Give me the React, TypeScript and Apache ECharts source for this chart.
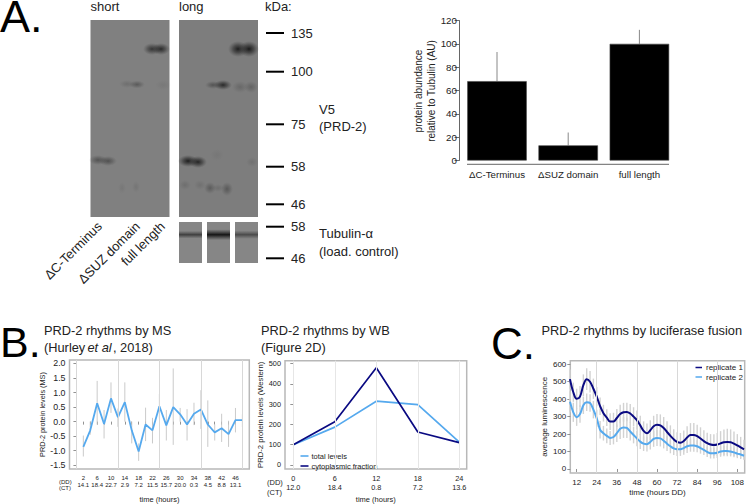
import React, { useEffect, useRef } from "react";
import * as echarts from "echarts";

const FONT = "Liberation Sans";
const NAVY = "#0a0a82";
const BLUE = "#55a9ee";

// Panel A bar chart
const barCategories = ["ΔC-Terminus", "ΔSUZ domain", "full length"];
const barValues = [68, 13, 100];
const barErrTop = [93, 24, 112];

// Panel B, mass spectrometry
const msHours = [2,4,6,8,10,12,14,16,18,20,22,24,26,28,30,32,34,36,38,40,42,44,46,48];
const msValues = [-0.87,-0.3,0.63,-0.08,0.8,0.15,0.67,-0.3,-1.03,-0.1,-0.3,0.53,-0.13,0.5,0.25,-0.1,0.27,0.42,-0.1,-0.37,-0.23,-0.43,0.05,0.05];
const msLow = [-1.2,-0.45,-0.1,-0.58,0.3,-0.18,0,-0.75,-1.35,-0.67,-0.75,0.1,-0.65,-0.8,0,-0.65,-0.12,-0.25,-0.87,-0.65,-0.7,-0.87,-0.37,-0.18];
const msHigh = [-0.48,0,1.4,0.4,1.35,0.45,1.35,0,-0.75,0.48,0.13,0.95,0.4,1.83,0.47,0.43,0.65,1.08,0.73,-0.1,0.27,0.03,0.47,0.25];
const msDD = [2,6,10,14,18,22,26,30,34,38,42,46];
const msCT = ["14.1","18.4","22.7","2.9","7.2","11.5","15.7","20.0","0.3","4.5","8.8","13.1"];
const msGrid = [0,12,24,36,48];
const msYTicks = [-1.5,-1,-0.5,0,0.5,1,1.5,2];

// Panel B, western blot
const wbDD = [0,6,12,18,24];
const wbCT = ["12.0","18.4","0.8","7.2","13.6"];
const wbTotal = [100,187,315,298,113];
const wbCyto = [100,213,480,163,110];
const wbYTicks = [0,100,200,300,400,500];

// Panel C, luciferase
const lucHours = [8,10,12,14,16,18,20,22,24,26,28,30,32,34,36,38,40,42,44,46,48,50,52,54,56,58,60,62,64,66,68,70,72,74,76,78,80,82,84,86,88,90,92,94,96,98,100,102,104,106,108,110,112];
const lucRep1 = [515,440,402,415,480,515,500,460,415,360,320,295,272,272,292,315,325,327,318,300,280,250,218,205,222,245,253,250,235,212,190,170,155,150,160,180,195,195,188,175,160,148,140,137,140,147,153,155,153,145,135,124,113];
const lucErr1 = [55,55,58,60,62,63,62,58,55,50,48,48,48,50,52,53,54,53,54,54,55,55,55,55,58,60,62,63,63,62,60,58,56,56,60,65,68,68,66,64,62,60,60,62,66,70,73,75,74,70,65,60,55];
const lucRep2 = [385,325,297,315,365,382,378,340,290,225,205,190,178,183,205,230,238,235,215,195,175,157,145,142,155,172,178,175,162,145,130,118,113,113,120,130,135,135,130,120,110,98,90,90,93,100,103,103,100,95,88,83,76];
const lucErr2 = [60,55,50,50,50,50,50,50,50,50,42,42,40,42,50,58,60,58,52,48,45,42,42,42,44,45,46,46,44,42,40,38,38,38,38,38,36,36,34,32,30,30,30,30,30,30,30,30,28,28,26,26,25];
const lucXTicks = [12,24,36,48,60,72,84,96,108];
const lucGrid = [24,48,72,96];
const lucYTicks = [0,100,200,300,400,500,600];

// Blot annotation
const markerShort = [["135",33],["100",71.7],["75",124.3],["58",166.7],["46",204.3],["58",226.7],["46",258.3]];
const bandsShort = [
  [152,49,9,6,0.7],[161,49,9,6,0.8],
  [137,84.5,8,4,0.35],[127,84,8,4,0.16],[163,85,8,5,0.07],
  [98,160,9,5,0.42],[108,161,9,5,0.45],
  [122,188,4,6,0.08],[136,187,4,6,0.1],
];
const bandsLong = [
  [238,49,10,8,0.9],[249,49,10,8,0.95],
  [213,85,8,4,0.4],[223,85,9,5,0.8],[240,87,8,6,0.2],[251,87,7,6,0.25],
  [188,161,10,6,0.9],[198,162,9,6,0.85],
  [210,188,6,6,0.32],[227,189,6,7,0.35],[185,185,6,5,0.14],[200,185,6,5,0.12],
  [217,155,7,6,0.06],[252,162,6,5,0.12],[218,188,6,4,0.14],
];
const tubulinBands = [[179,202,0.6,2.4],[207,230,0.95,3.4],[235,258,0.5,2.6]];

const txt = (x: number, y: number, text: string, fontSize: number, extra: any = {}, rest: any = {}) => ({
  type: "text", x, y, silent: true, ...rest,
  style: { text, fontSize, fontFamily: FONT, fill: "#222", verticalAlign: "middle", ...extra },
});

const blob = (b: number[]) => ({
  type: "ellipse", silent: true,
  shape: { cx: b[0], cy: b[1], rx: b[2], ry: b[3] },
  style: {
    fill: new echarts.graphic.RadialGradient(0.5, 0.5, 0.5, [
      { offset: 0, color: `rgba(20,20,20,${b[4]})` },
      { offset: 0.5, color: `rgba(30,30,30,${b[4] * 0.55})` },
      { offset: 1, color: "rgba(60,60,60,0)" },
    ]),
  },
});

const rectEl = (x: number, y: number, w: number, h: number, fill: any) => ({
  type: "rect", silent: true, shape: { x, y, width: w, height: h }, style: { fill },
});

const errorSeries = (xIdx: number, data: number[][], color: string, width: number, grid?: number[], gridColor = "#d6d6d6") => ({
  type: "custom", xAxisIndex: xIdx, yAxisIndex: xIdx, z: 2, silent: true, clip: false,
  data, encode: { x: 0, y: [1, 2] },
  renderItem: (_: any, api: any) => {
    const a = api.coord([api.value(0), api.value(1)]);
    const b = api.coord([api.value(0), api.value(2)]);
    return { type: "line", shape: { x1: a[0], y1: a[1], x2: b[0], y2: b[1] }, style: { stroke: color, lineWidth: width } };
  },
  ...(grid ? { markLine: { silent: true, symbol: "none", label: { show: false }, animation: false, lineStyle: { color: gridColor, width: 1, type: "solid" }, data: grid.map((h) => ({ xAxis: h })) } } : {}),
});

const lineSeries = (name: string, idx: number, xs: number[], ys: number[], color: string, width: number, smooth: any = false) => ({
  name, type: "line", xAxisIndex: idx, yAxisIndex: idx, z: 3, showSymbol: false, symbol: "none", smooth,
  data: xs.map((x, i) => [x, ys[i]]),
  lineStyle: { color, width }, itemStyle: { color },
});

const frameGrid = (left: number, top: number, width: number, height: number) => ({
  left, top, width, height, show: true, borderColor: "#b8b8b8", borderWidth: 1.5, backgroundColor: "transparent",
});

export default function App() {
  const ref = useRef<HTMLDivElement>(null);
  useEffect(() => {
    const chart = echarts.init(ref.current!, undefined, { renderer: "svg" });
    const valueTick = { show: true, length: 3, lineStyle: { color: "#777", width: 0.8 } };
    const graphics: any[] = [
      txt(0, 16.5, "A.", 45, { fill: "#000", lineHeight: 33 }),
      txt(0, 342, "B.", 43, { fill: "#000" }),
      txt(491, 343, "C.", 44, { fill: "#000" }),
      txt(90.5, 6, "short", 13),
      txt(179, 6, "long", 13),
      txt(265, 6, "kDa:", 13),
      rectEl(90.5, 20, 79, 197, "#808080"),
      rectEl(179, 20, 79, 197, "#7d7d7d"),
      ...bandsShort.map(blob),
      ...bandsLong.map(blob),
      rectEl(179, 222, 23, 41, "#868686"),
      rectEl(207, 222, 23, 41, "#868686"),
      rectEl(235, 222, 23, 41, "#868686"),
      ...tubulinBands.map((t) => rectEl(t[0], 234.7 - t[3] * 1.6, t[1] - t[0], t[3] * 3.2, new echarts.graphic.LinearGradient(0, 0, 0, 1, [
        { offset: 0, color: "rgba(30,30,30,0)" },
        { offset: 0.5, color: `rgba(15,15,15,${t[2]})` },
        { offset: 1, color: "rgba(30,30,30,0)" },
      ]))),
      ...markerShort.flatMap((m) => [
        rectEl(266, (m[1] as number) - 1, 18, 2, "#000"),
        txt(291, m[1] as number, m[0] as string, 13),
      ]),
      txt(319, 109, "V5", 13),
      txt(319, 126.5, "(PRD-2)", 13),
      txt(319, 233, "Tubulin-α", 13),
      txt(319, 251.5, "(load. control)", 13),
      txt(95, 219.5, "ΔC-Terminus", 13, { align: "right", verticalAlign: "top" }, { rotation: Math.PI / 4 }),
      txt(133, 219.5, "ΔSUZ domain", 13, { align: "right", verticalAlign: "top" }, { rotation: Math.PI / 4 }),
      txt(158, 219.5, "full length", 13, { align: "right", verticalAlign: "top" }, { rotation: Math.PI / 4 }),
      txt(418, 91, "protein abundance", 10, { align: "center" }, { rotation: Math.PI / 2 }),
      txt(431, 91, "relative to Tubulin (AU)", 10, { align: "center" }, { rotation: Math.PI / 2 }),
      { type: "line", silent: true, shape: { x1: 467, y1: 164.3, x2: 669, y2: 164.3 }, style: { stroke: "#666", lineWidth: 1 } },
      txt(44, 330, "PRD-2 rhythms by MS", 12.8),
      txt(44, 347, "(Hurley ", 12.8),
      txt(87.5, 347, "et al", 12.8, { fontStyle: "italic" }),
      txt(113, 347, ", 2018)", 12.8),
      txt(261, 330, "PRD-2 rhythms by WB", 12.8),
      txt(261, 347, "(Figure 2D)", 12.8),
      txt(541.5, 330, "PRD-2 rhythms by luciferase fusion", 12.8),
      txt(59, 481.7, "(DD)", 6),
      txt(59, 488.2, "(CT)", 6),
      txt(267, 482.7, "(DD)", 7.5),
      txt(267, 492, "(CT)", 7.5),
    ];

    chart.setOption({
      animation: false,
      backgroundColor: "#fff",
      textStyle: { fontFamily: FONT },
      graphic: graphics,
      grid: [
        { left: 461.4, top: 20.5, width: 213.6, height: 140 },
        frameGrid(69.5, 360, 179.8, 115),
        frameGrid(285, 360.7, 181.7, 114.3),
        frameGrid(570.3, 360.7, 176.4, 112.3),
      ],
      legend: [
        {
          left: 300.5, top: 452, orient: "vertical", itemWidth: 8, itemHeight: 1.6, itemGap: 2, icon: "rect",
          data: ["total levels", "cytoplasmic fraction"], textStyle: { fontSize: 7.5, color: "#222", fontFamily: FONT, padding: [0, 0, 0, -2] }, padding: 0,
        },
        {
          left: 695.5, top: 363.5, orient: "vertical", itemWidth: 6.5, itemHeight: 1.5, itemGap: 1.5, icon: "rect",
          data: ["replicate 1", "replicate 2"], textStyle: { fontSize: 8, color: "#222", fontFamily: FONT, padding: [0, 0, 0, -1] }, padding: 0,
        },
      ],
      xAxis: [
        {
          gridIndex: 0, type: "category", data: barCategories,
          axisLine: { show: false }, axisTick: { show: false },
          axisLabel: { fontSize: 9.7, color: "#222", margin: 9, interval: 0 },
        },
        {
          gridIndex: 1, type: "value", min: -2, max: 50, interval: 2, splitLine: { show: false }, axisLine: { show: false },
          axisTick: valueTick,
          axisLabel: {
            interval: 0, fontSize: 6, color: "#222", margin: 6, lineHeight: 6.5, showMinLabel: false, showMaxLabel: false,
            formatter: (v: number) => { const i = msDD.indexOf(v); return i < 0 ? "" : `${v}\n${msCT[i]}`; },
          },
          name: "time (hours)", nameLocation: "middle", nameGap: 26, nameTextStyle: { fontSize: 7.5, color: "#222" },
        },
        {
          gridIndex: 2, type: "value", min: -1.2, max: 25.07, splitLine: { show: false }, axisLine: { show: false },
          axisTick: { ...valueTick, customValues: wbDD },
          axisLabel: {
            customValues: wbDD, fontSize: 7.3, color: "#222", margin: 5, lineHeight: 9.3,
            formatter: (v: number) => `${v}\n${wbCT[wbDD.indexOf(v)]}`,
          },
          name: "time (hours)", nameLocation: "middle", nameGap: 26, nameTextStyle: { fontSize: 7.5, color: "#222" },
        },
        {
          gridIndex: 3, type: "value", min: 8.2, max: 112.4, splitLine: { show: false }, axisLine: { show: false },
          axisTick: { ...valueTick, customValues: lucXTicks },
          axisLabel: { customValues: lucXTicks, fontSize: 8, color: "#222", margin: 5 },
          name: "time (hours DD)", nameLocation: "middle", nameGap: 15.5, nameTextStyle: { fontSize: 8, color: "#222" },
        },
      ],
      yAxis: [
        {
          gridIndex: 0, type: "value", min: 0, max: 120, interval: 20, offset: 2.4, splitLine: { show: false },
          axisLine: { show: true, lineStyle: { color: "#666", width: 1 } },
          axisTick: { show: true, length: 4.5, lineStyle: { color: "#444", width: 0.8 } },
          axisLabel: { fontSize: 9.8, color: "#222", margin: 2 },
        },
        {
          gridIndex: 1, type: "value", min: -1.63, max: 2.12, splitLine: { show: false }, axisLine: { show: false },
          axisTick: { ...valueTick, customValues: msYTicks },
          axisLabel: { customValues: msYTicks, fontSize: 8.8, color: "#222", margin: 4, formatter: (v: number) => v.toFixed(1) },
          name: "PRD-2 protein levels (MS)", nameLocation: "middle", nameGap: 19, nameRotate: 90, nameTextStyle: { fontSize: 7.3, color: "#222" },
        },
        {
          gridIndex: 2, type: "value", min: -20, max: 515, splitLine: { show: false }, axisLine: { show: false },
          axisTick: { ...valueTick, customValues: wbYTicks },
          axisLabel: { customValues: wbYTicks, fontSize: 7.3, color: "#222", margin: 4 },
          name: "PRD-2 protein levels (Western)", nameLocation: "middle", nameGap: 19, nameRotate: 90, nameTextStyle: { fontSize: 7.7, color: "#222" },
        },
        {
          gridIndex: 3, type: "value", min: -23, max: 620.6, splitLine: { show: false }, axisLine: { show: false },
          axisTick: { ...valueTick, customValues: lucYTicks },
          axisLabel: { customValues: lucYTicks, fontSize: 8, color: "#222", margin: 4 },
          name: "average luminescence", nameLocation: "middle", nameGap: 22, nameRotate: 90, nameTextStyle: { fontSize: 8, color: "#222" },
        },
      ],
      series: [
        {
          type: "bar", xAxisIndex: 0, yAxisIndex: 0, data: barValues, barWidth: 59.5, z: 3,
          itemStyle: { color: "#000", borderColor: "#444", borderWidth: 0.6 },
        },
        errorSeries(0, barCategories.map((_, i) => [i, barValues[i], barErrTop[i]]), "#888", 1),
        errorSeries(1, msHours.map((h, i) => [h, msLow[i], msHigh[i]]), "#c4c4c4", 0.9, msGrid, "#d8d8d8"),
        lineSeries("MS", 1, msHours, msValues, BLUE, 1.8),
        errorSeries(2, [], "#ccc", 0.8, wbDD, "#e6e6e6"),
        lineSeries("total levels", 2, wbDD, wbTotal, BLUE, 1.7),
        lineSeries("cytoplasmic fraction", 2, wbDD, wbCyto, NAVY, 1.7),
        errorSeries(3, lucHours.map((h, i) => [h, lucRep1[i] - lucErr1[i], lucRep1[i] + lucErr1[i]]), "#d2d2d2", 1.4, lucGrid, "#d8d8d8"),
        errorSeries(3, lucHours.map((h, i) => [h, lucRep2[i] - lucErr2[i], lucRep2[i] + lucErr2[i]]), "#d2d2d2", 1.4),
        lineSeries("replicate 1", 3, lucHours, lucRep1, NAVY, 2, 0.35),
        lineSeries("replicate 2", 3, lucHours, lucRep2, BLUE, 2, 0.35),
      ],
    });
    return () => chart.dispose();
  }, []);
  return <div ref={ref} style={{ position: "fixed", left: 0, top: 0, width: 747, height: 504, background: "#fff" }} />;
}
